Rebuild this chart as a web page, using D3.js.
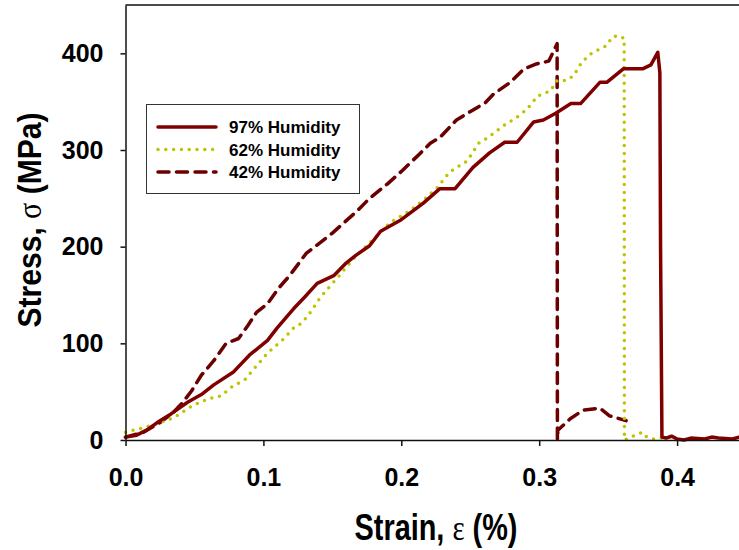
<!DOCTYPE html>
<html>
<head>
<meta charset="utf-8">
<script src="https://cdn.jsdelivr.net/npm/d3@7"></script>
<style>
  body { margin: 0; background: #fff; }
  svg { display: block; }
  text { font-family: "Liberation Sans", Arial, sans-serif; fill: #000; }
</style>
</head>
<body>
<div id="chart"></div>
<script>
// stress-strain curves
const strain97 = [0, 0.008, 0.015, 0.023, 0.033, 0.045, 0.055, 0.064, 0.078, 0.090, 0.103, 0.110, 0.122, 0.130, 0.139, 0.151, 0.160, 0.167, 0.177, 0.185, 0.199, 0.216, 0.228, 0.239, 0.252, 0.264, 0.275, 0.284, 0.296, 0.303, 0.312, 0.323, 0.330, 0.344, 0.349, 0.361, 0.375, 0.381, 0.386, 0.3875, 0.388, 0.389, 0.392, 0.396, 0.400, 0.405, 0.410, 0.420, 0.425, 0.430, 0.440, 0.445];
const stress97 = [3, 5, 10, 18, 27, 39, 47, 57, 70, 88, 103, 116, 136, 148, 162, 170, 183, 191, 201, 216, 227, 245, 260, 260, 282, 297, 308, 308, 329, 331, 338, 348, 348, 370, 370, 384, 384, 388, 401, 380, 200, 3, 2, 4, 1, 0, 2, 1, 3, 2, 1, 3];

const strain62 = [0, 0.011, 0.023, 0.035, 0.049, 0.061, 0.070, 0.076, 0.087, 0.094, 0.103, 0.115, 0.122, 0.128, 0.134, 0.141, 0.150, 0.155, 0.165, 0.177, 0.192, 0.206, 0.216, 0.226, 0.235, 0.248, 0.256, 0.263, 0.274, 0.284, 0.291, 0.299, 0.308, 0.313, 0.320, 0.325, 0.331, 0.338, 0.346, 0.349, 0.353, 0.356, 0.359, 0.3616, 0.3617, 0.3618, 0.365, 0.371, 0.375, 0.378, 0.382, 0.388, 0.393, 0.398, 0.401];
const stress62 = [8, 12, 17, 23, 36, 43, 46, 54, 63, 75, 90, 105, 116, 121, 132, 147, 162, 170, 187, 204, 225, 237, 248, 261, 277, 289, 307, 313, 325, 334, 342, 356, 361, 372, 372, 377, 391, 400, 406, 408, 417, 418, 416, 416, 300, 0, 2, 6, 8, 3, 1, 2, 3, 1, 0];

const strain42 = [0, 0.013, 0.025, 0.035, 0.041, 0.048, 0.055, 0.064, 0.073, 0.082, 0.089, 0.095, 0.103, 0.111, 0.119, 0.131, 0.150, 0.168, 0.177, 0.190, 0.201, 0.214, 0.221, 0.228, 0.240, 0.248, 0.261, 0.267, 0.279, 0.289, 0.298, 0.307, 0.313, 0.3131, 0.3132, 0.3135, 0.3225, 0.332, 0.344, 0.351, 0.363];
const stress42 = [3, 8, 18, 29, 38, 51, 67, 82, 100, 105, 119, 132, 141, 157, 170, 193, 214, 237, 250, 265, 279, 297, 307, 313, 331, 338, 349, 358, 370, 384, 389, 392, 410, 200, 0, 10, 22, 31, 33, 25, 20];

const seriesNames = ["97% Humidity", "62% Humidity", "42% Humidity"];
const xTicks = [0, 0.1, 0.2, 0.3, 0.4];
const yTicks = [0, 100, 200, 300, 400];

const width = 739, height = 550;
const margin = { top: 5, left: 125.5, bottom: 110 };

const svg = d3.select("#chart").append("svg")
  .attr("width", width)
  .attr("height", height);

const x = d3.scaleLinear()
  .domain([0, 0.45])
  .range([margin.left, margin.left + 0.45 * 1379]);

const y = d3.scaleLinear()
  .domain([0, 450])
  .range([height - margin.bottom, margin.top]);

const styles = [
  { color: "#800000", dash: null, cap: "round" },
  { color: "#bfc400", dash: "0 7.8", cap: "round" },
  { color: "#6b0000", dash: "11 7.5", cap: "round" }
];

const series = [
  strain97.map((s, i) => ({ x: s, y: stress97[i] })),
  strain62.map((s, i) => ({ x: s, y: stress62[i] })),
  strain42.map((s, i) => ({ x: s, y: stress42[i] }))
];

// frame: top border and right border (right one falls off the canvas)
svg.append("line")
  .attr("x1", x(0)).attr("x2", x(0.45))
  .attr("y1", y(450)).attr("y2", y(450))
  .attr("stroke", "#111").attr("stroke-width", 1.5);
svg.append("line")
  .attr("x1", x(0.45)).attr("x2", x(0.45))
  .attr("y1", y(450)).attr("y2", y(0))
  .attr("stroke", "#111").attr("stroke-width", 1.5);

const line = d3.line()
  .x(d => x(d.x))
  .y(d => y(d.y));

// draw curves (last series first so the solid one sits on top)
[2, 1, 0].forEach(i => {
  svg.append("path")
    .datum(series[i])
    .attr("fill", "none")
    .attr("stroke", styles[i].color)
    .attr("stroke-width", 3.5)
    .attr("stroke-linecap", styles[i].cap)
    .attr("stroke-linejoin", "round")
    .attr("stroke-dasharray", styles[i].dash)
    .attr("d", line);
});

// axes
const xAxis = svg.append("g")
  .attr("transform", `translate(0,${y(0)})`)
  .call(d3.axisBottom(x).tickValues(xTicks).tickFormat(d3.format(".1f"))
    .tickSize(6).tickSizeOuter(0).tickPadding(22));

const yAxis = svg.append("g")
  .attr("transform", `translate(${x(0)},0)`)
  .call(d3.axisLeft(y).tickValues(yTicks).tickFormat(d3.format("d"))
    .tickSize(5).tickSizeOuter(0).tickPadding(17));

[xAxis, yAxis].forEach(ax => {
  ax.select(".domain").attr("stroke", "#111").attr("stroke-width", 1.5);
  ax.selectAll(".tick line").attr("stroke", "#111").attr("stroke-width", 1.5);
  ax.selectAll(".tick text")
    .attr("fill", "#000")
    .style("font-size", "25px")
    .style("font-weight", "bold")
    .style("font-family", "'Liberation Sans', Arial, sans-serif");
});

// axis titles: tall, narrow lettering, greek letters in a serif face.
// squeeze each title horizontally to the width seen in the reference
function title(parts, fontSize, target, place) {
  const t = svg.append("text")
    .attr("text-anchor", "middle")
    .style("font-size", fontSize + "px")
    .style("font-weight", "bold");
  parts.forEach(p => {
    const s = t.append("tspan").text(p.text);
    if (p.serif) s.style("font-family", "'Liberation Serif', serif").style("font-weight", "normal");
  });
  const k = target / t.node().getComputedTextLength();
  t.attr("transform", `${place} scale(${k},1)`);
}

title([{ text: "Strain, " }, { text: "ε", serif: true }, { text: " (%)" }],
  36, 163, "translate(436,540)");
title([{ text: "Stress, " }, { text: "σ", serif: true }, { text: " (MPa)" }],
  34, 215, "translate(41,220) rotate(-90)");

// legend
const legend = svg.append("g");
legend.append("rect")
  .attr("x", 146.5).attr("y", 104.5)
  .attr("width", 213).attr("height", 89)
  .attr("fill", "#fff")
  .attr("stroke", "#333").attr("stroke-width", 1);

const rowY = d3.scalePoint()
  .domain(seriesNames)
  .range([127, 172]);

seriesNames.forEach((name, i) => {
  legend.append("line")
    .attr("x1", 158).attr("x2", 216)
    .attr("y1", rowY(name)).attr("y2", rowY(name))
    .attr("stroke", styles[i].color)
    .attr("stroke-width", 3.5)
    .attr("stroke-linecap", styles[i].cap)
    .attr("stroke-dasharray", styles[i].dash);
  legend.append("text")
    .attr("x", 229)
    .attr("y", rowY(name))
    .attr("dy", "0.36em")
    .style("font-size", "17px")
    .style("font-weight", "bold")
    .text(name);
});
</script>
</body>
</html>
